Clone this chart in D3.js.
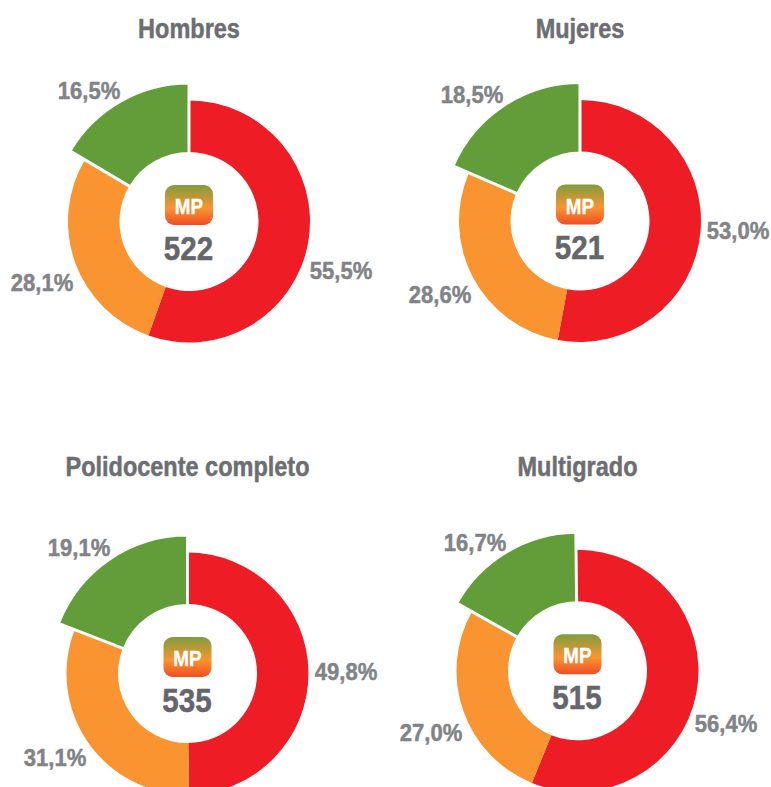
<!DOCTYPE html>
<html>
<head>
<meta charset="utf-8">
<script src="https://cdn.jsdelivr.net/npm/d3@7"></script>
<style>
html, body { margin: 0; padding: 0; background: #fff; overflow: hidden; }
text { font-family: "Liberation Sans", sans-serif; font-weight: bold; }
</style>
</head>
<body>
<svg width="771" height="787"></svg>
<script>
var titles = ["Hombres", "Mujeres", "Polidocente completo", "Multigrado"];
var levels = ["rojo", "naranja", "verde"];
var colors = ["#ee1d25", "#f99431", "#639d39"];
var rojo = [55.5, 53.0, 49.8, 56.4];
var naranja = [28.1, 28.6, 31.1, 27.0];
var verde = [16.5, 18.5, 19.1, 16.7];
var scores = [522, 521, 535, 515];

var centerX = [189, 580, 187.5, 577.5];
var centerY = [221.5, 221, 673.5, 670.8];
var rotation = [0, 0, 0, -0.7];
var titleY = [38, 38, 476, 476];
var labelPos = [
  [[341, 279], [42, 291], [89, 99]],
  [[738, 239], [440, 303], [472, 103]],
  [[346, 680], [55, 766], [79, 556]],
  [[726, 732], [431, 741], [475, 551]]
];

var svg = d3.select("svg");
var defs = svg.append("defs");
var grad = defs.append("linearGradient")
    .attr("id", "mp")
    .attr("x1", 0).attr("y1", 0).attr("x2", 0).attr("y2", 1);
grad.append("stop").attr("offset", "0%").attr("stop-color", "#7f9d3c");
grad.append("stop").attr("offset", "58%").attr("stop-color", "#f99431");
grad.append("stop").attr("offset", "100%").attr("stop-color", "#f04e23");

var pie = d3.pie().sort(null).value(function(d) { return d.value; });
var innerR = 69.5, outerR = 121, greenR = 138.5;

// no condensed face is installed, so squeeze the bold one horizontally
function squeezed(parent, x, y, sx, size, fill, str, thick) {
  return parent.append("text")
      .attr("transform", "translate(" + x + "," + y + ") scale(" + sx + ",1)")
      .attr("text-anchor", "middle")
      .attr("font-size", size)
      .attr("fill", fill)
      .attr("stroke", fill)
      .attr("stroke-width", thick)
      .text(str);
}

titles.forEach(function(title, i) {
  var data = [rojo[i], naranja[i], verde[i]].map(function(v, k) {
    return {level: levels[k], value: v, color: colors[k]};
  });
  var rot = rotation[i] * Math.PI / 180;
  pie.startAngle(rot).endAngle(2 * Math.PI + rot);

  var arc = d3.arc()
      .innerRadius(function(d) { return d.data.level === "verde" ? innerR - 1.5 : innerR; })
      .outerRadius(function(d) { return d.data.level === "verde" ? greenR : outerR; });

  squeezed(svg, centerX[i], titleY[i], 0.87, 27, "#6d6e72", title, 0.5);

  var g = svg.append("g")
      .attr("transform", "translate(" + centerX[i] + "," + centerY[i] + ")");

  // only the green wedge gets the white outline, red and orange touch
  g.selectAll("path")
    .data(pie(data))
    .enter().append("path")
      .attr("d", arc)
      .attr("fill", function(d) { return d.data.color; })
      .attr("stroke", function(d) { return d.data.level === "verde" ? "#fff" : "none"; })
      .attr("stroke-width", 3);

  g.append("rect")
      .attr("x", -24)
      .attr("y", -36.5)
      .attr("width", 48)
      .attr("height", 40)
      .attr("rx", 9)
      .attr("fill", "url(#mp)");

  squeezed(g, 0, -7.5, 0.84, 22.5, "#fff", "MP", 0.3);
  squeezed(g, -0.5, 38, 0.87, 34, "#65666a", scores[i], 0.5);

  data.forEach(function(d, k) {
    squeezed(svg, labelPos[i][k][0], labelPos[i][k][1], 0.9, 24.5, "#828387",
        d.value.toFixed(1).replace(".", ",") + "%", 0.5);
  });
});
</script>
</body>
</html>
